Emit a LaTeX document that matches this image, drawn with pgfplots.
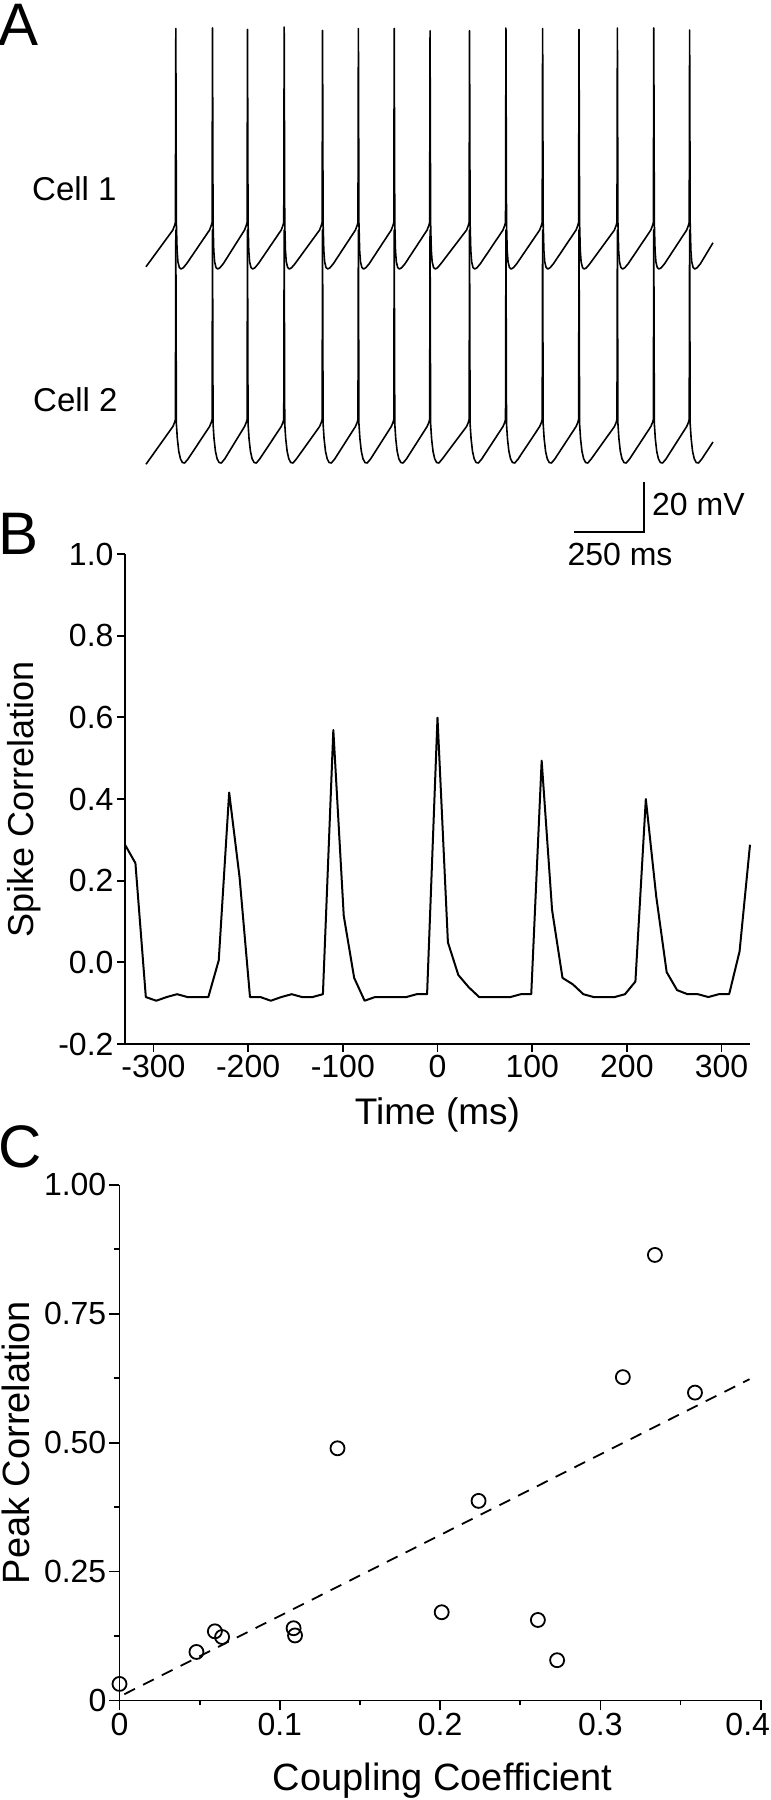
\documentclass[border=0pt]{standalone}
\usepackage{fontspec}
\setmainfont{Liberation Sans}
\usepackage{pgfplots}
\pgfplotsset{compat=1.18}
\begin{document}
\begin{tikzpicture}
\path[use as bounding box] (0pt,0pt) rectangle (771pt,-1800pt);

% ---------------- Panel A : Cell 1 ----------------
\begin{axis}[at={(146pt,-270.5pt)}, anchor=south west, scale only axis,
  width=567pt, height=245pt, xmin=0, xmax=2025, ymin=-64, ymax=34,
  hide axis, clip=false]
\addplot[black, line width=1.6pt, line join=round] table {
t v
0 -62.5
96 -47.8
102 -46.0
105 -44.8
106.5 32.8
108.5 -45.0
111 -56.0
114 -60.5
119 -62.8
125 -63.4
133 -62.9
145 -61.3
227 -47.8
233 -46.0
236 -44.8
237.5 33.0
239.5 -45.0
242 -56.0
245 -60.5
250 -62.8
256 -63.4
264 -62.9
276 -61.3
352 -47.8
358 -46.0
361 -44.8
362.5 32.4
364.5 -45.0
367 -56.0
370 -60.5
375 -62.8
381 -63.4
389 -62.9
401 -61.3
483 -47.8
489 -46.0
492 -44.8
493.5 33.4
495.5 -45.0
498 -56.0
501 -60.5
506 -62.8
512 -63.4
520 -62.9
532 -61.3
620 -47.8
626 -46.0
629 -44.8
630.5 32.0
632.5 -45.0
635 -56.0
638 -60.5
643 -62.8
649 -63.4
657 -62.9
669 -61.3
748 -47.8
754 -46.0
757 -44.8
758.5 32.8
760.5 -45.0
763 -56.0
766 -60.5
771 -62.8
777 -63.4
785 -62.9
797 -61.3
876 -47.8
882 -46.0
885 -44.8
886.5 32.8
888.5 -45.0
891 -56.0
894 -60.5
899 -62.8
905 -63.4
913 -62.9
925 -61.3
1004 -47.8
1010 -46.0
1013 -44.8
1014.5 31.9
1016.5 -45.0
1019 -56.0
1022 -60.5
1027 -62.8
1033 -63.4
1041 -62.9
1053 -61.3
1145 -47.8
1151 -46.0
1154 -44.8
1155.5 31.9
1157.5 -45.0
1160 -56.0
1163 -60.5
1168 -62.8
1174 -63.4
1182 -62.9
1194 -61.3
1275 -47.8
1281 -46.0
1284 -44.8
1285.5 33.0
1287.5 -45.0
1290 -56.0
1293 -60.5
1298 -62.8
1304 -63.4
1312 -62.9
1324 -61.3
1406 -47.8
1412 -46.0
1415 -44.8
1416.5 32.8
1418.5 -45.0
1421 -56.0
1424 -60.5
1429 -62.8
1435 -63.4
1443 -62.9
1455 -61.3
1536 -47.8
1542 -46.0
1545 -44.8
1546.5 32.4
1548.5 -45.0
1551 -56.0
1554 -60.5
1559 -62.8
1565 -63.4
1573 -62.9
1585 -61.3
1673 -47.8
1679 -46.0
1682 -44.8
1683.5 33.0
1685.5 -45.0
1688 -56.0
1691 -60.5
1696 -62.8
1702 -63.4
1710 -62.9
1722 -61.3
1803 -47.8
1809 -46.0
1812 -44.8
1813.5 33.0
1815.5 -45.0
1818 -56.0
1821 -60.5
1826 -62.8
1832 -63.4
1840 -62.9
1852 -61.3
1931 -47.8
1937 -46.0
1940 -44.8
1941.5 32.2
1943.5 -45.0
1946 -56.0
1949 -60.5
1954 -62.8
1960 -63.4
1968 -62.9
1980 -61.3
2025 -52.9
};
\end{axis}

% ---------------- Panel A : Cell 2 + scale bar ----------------
\begin{axis}[at={(146pt,-545pt)}, anchor=south west, scale only axis,
  width=567pt, height=322.5pt, xmin=0, xmax=2025, ymin=-95, ymax=34,
  hide axis, clip=false]
\addplot[black, line width=1.6pt, line join=round] table {
t v
0 -62.7
96 -47.6
102 -46.0
105 -44.8
106.5 31.0
108.5 -46.5
112 -52.5
117 -57.5
123 -60.5
130 -62.0
138 -62.2
150 -60.6
227 -47.6
233 -46.0
236 -44.8
237.5 31.0
239.5 -46.5
243 -52.5
248 -57.5
254 -60.5
261 -62.0
269 -62.2
281 -60.6
352 -47.6
358 -46.0
361 -44.8
362.5 31.0
364.5 -46.5
368 -52.5
373 -57.5
379 -60.5
386 -62.0
394 -62.2
406 -60.6
483 -47.6
489 -46.0
492 -44.8
493.5 31.0
495.5 -46.5
499 -52.5
504 -57.5
510 -60.5
517 -62.0
525 -62.2
537 -60.6
620 -47.6
626 -46.0
629 -44.8
630.5 31.0
632.5 -46.5
636 -52.5
641 -57.5
647 -60.5
654 -62.0
662 -62.2
674 -60.6
748 -47.6
754 -46.0
757 -44.8
758.5 31.0
760.5 -46.5
764 -52.5
769 -57.5
775 -60.5
782 -62.0
790 -62.2
802 -60.6
876 -47.6
882 -46.0
885 -44.8
886.5 31.0
888.5 -46.5
892 -52.5
897 -57.5
903 -60.5
910 -62.0
918 -62.2
930 -60.6
1004 -47.6
1010 -46.0
1013 -44.8
1014.5 31.0
1016.5 -46.5
1020 -52.5
1025 -57.5
1031 -60.5
1038 -62.0
1046 -62.2
1058 -60.6
1145 -47.6
1151 -46.0
1154 -44.8
1155.5 31.0
1157.5 -46.5
1161 -52.5
1166 -57.5
1172 -60.5
1179 -62.0
1187 -62.2
1199 -60.6
1275 -47.6
1281 -46.0
1284 -44.8
1285.5 31.0
1287.5 -46.5
1291 -52.5
1296 -57.5
1302 -60.5
1309 -62.0
1317 -62.2
1329 -60.6
1406 -47.6
1412 -46.0
1415 -44.8
1416.5 31.0
1418.5 -46.5
1422 -52.5
1427 -57.5
1433 -60.5
1440 -62.0
1448 -62.2
1460 -60.6
1536 -47.6
1542 -46.0
1545 -44.8
1546.5 31.0
1548.5 -46.5
1552 -52.5
1557 -57.5
1563 -60.5
1570 -62.0
1578 -62.2
1590 -60.6
1673 -47.6
1679 -46.0
1682 -44.8
1683.5 31.0
1685.5 -46.5
1689 -52.5
1694 -57.5
1700 -60.5
1707 -62.0
1715 -62.2
1727 -60.6
1803 -47.6
1809 -46.0
1812 -44.8
1813.5 31.0
1815.5 -46.5
1819 -52.5
1824 -57.5
1830 -60.5
1837 -62.0
1845 -62.2
1857 -60.6
1931 -47.6
1937 -46.0
1940 -44.8
1941.5 31.0
1943.5 -46.5
1947 -52.5
1952 -57.5
1958 -60.5
1965 -62.0
1973 -62.2
1985 -60.6
2025 -53.8
};
% scale bar: 250 ms x 20 mV
\addplot[black, line width=2pt] coordinates {(1528.6,-89.8) (1778.6,-89.8) (1778.6,-69.8)};
\end{axis}

% ---------------- Panel B ----------------
\begin{axis}[at={(125pt,-1044pt)}, anchor=south west, scale only axis,
  width=625pt, height=490pt,
  xmin=-330, xmax=330, ymin=-0.2, ymax=1.0, enlargelimits=false,
  axis lines=left, x axis line style={-}, y axis line style={-},
  axis line style={line width=1.8pt, black},
  tick align=outside, major tick length=8pt,
  tick style={line width=1.8pt, black},
  xtick={-300,-200,-100,0,100,200,300},
  xticklabels={-300,-200,-100,0,100,200,300},
  ytick={-0.2,0,0.2,0.4,0.6,0.8,1.0},
  yticklabels={-0.2,0.0,0.2,0.4,0.6,0.8,1.0},
  ticklabel style={font=\fontsize{32}{36}\selectfont},
  xlabel={Time (ms)}, ylabel={Spike Correlation},
  every axis x label/.style={at={(axis description cs:0.5,-0.1633)}, anchor=base, font=\fontsize{37}{40}\selectfont},
  every axis y label/.style={at={(axis description cs:-0.1456,0.5)}, anchor=base, rotate=90, font=\fontsize{36}{40}\selectfont},
  clip=false]
\addplot[black, line width=2pt, line join=round] coordinates {
(-330,0.288) (-319,0.243) (-308,-0.085) (-297,-0.094) (-286,-0.085) (-275,-0.078)
(-264,-0.085) (-253,-0.085) (-242,-0.085) (-231,0.005) (-220,0.416) (-209,0.208)
(-198,-0.085) (-187,-0.085) (-176,-0.094) (-165,-0.085) (-154,-0.078) (-143,-0.085)
(-132,-0.085) (-121,-0.078) (-110,0.569) (-99,0.114) (-88,-0.038) (-77,-0.094)
(-66,-0.085) (-55,-0.085) (-44,-0.085) (-33,-0.085) (-22,-0.078) (-11,-0.078)
(0,0.599) (11,0.049) (22,-0.031) (33,-0.061) (44,-0.085) (55,-0.085)
(66,-0.085) (77,-0.085) (88,-0.078) (99,-0.078) (110,0.494) (121,0.128)
(132,-0.038) (143,-0.054) (154,-0.078) (165,-0.085) (176,-0.085) (187,-0.085)
(198,-0.078) (209,-0.047) (220,0.400) (231,0.161) (242,-0.024) (253,-0.068)
(264,-0.078) (275,-0.078) (286,-0.085) (297,-0.078) (308,-0.078) (319,0.027)
(330,0.288)
};
\end{axis}

% ---------------- Panel C ----------------
\begin{axis}[at={(119.5pt,-1700.4pt)}, anchor=south west, scale only axis,
  width=641.2pt, height=515.6pt,
  xmin=0, xmax=0.4, ymin=0, ymax=1, enlargelimits=false,
  axis lines=left, x axis line style={-}, y axis line style={-},
  axis line style={line width=1.8pt, black},
  tick align=outside, major tick length=10pt, minor tick length=5pt,
  tick style={line width=1.8pt, black},
  xtick={0,0.1,0.2,0.3,0.4}, xticklabels={0,0.1,0.2,0.3,{0.4\hspace*{26pt}}},
  minor xtick={0.05,0.15,0.25,0.35},
  ytick={0,0.25,0.5,0.75,1}, yticklabels={0,0.25,0.50,0.75,1.00},
  minor ytick={0.125,0.375,0.625,0.875},
  ticklabel style={font=\fontsize{32}{36}\selectfont, inner sep=3pt},
  xlabel={Coupling Coefficient}, ylabel={Peak Correlation},
  every axis x label/.style={at={(axis description cs:0.504,-0.1738)}, anchor=base, font=\fontsize{38}{42}\selectfont},
  every axis y label/.style={at={(axis description cs:-0.1404,0.5)}, anchor=base, rotate=90, font=\fontsize{38}{42}\selectfont},
  clip=false]
\addplot[black, line width=1.8pt, dash pattern=on 12pt off 9pt] coordinates {(0.003,0.012) (0.393,0.623)};
\addplot[only marks, mark=o, mark size=7pt, mark options={line width=1.8pt, black}] coordinates {
(0.000,0.032) (0.048,0.094) (0.0595,0.134) (0.064,0.123) (0.1086,0.140)
(0.1095,0.126) (0.136,0.489) (0.201,0.171) (0.224,0.387) (0.261,0.156)
(0.273,0.078) (0.314,0.627) (0.334,0.864) (0.359,0.597)
};
\end{axis}

% ---------------- Text ----------------
\node[anchor=base west, inner sep=0pt, font=\fontsize{60}{60}\selectfont] at (-2pt,-45pt) {A};
\node[anchor=base west, inner sep=0pt, font=\fontsize{60}{60}\selectfont] at (-2pt,-554pt) {B};
\node[anchor=base west, inner sep=0pt, font=\fontsize{60}{60}\selectfont] at (-2pt,-1167pt) {C};
\node[anchor=base west, inner sep=0pt, font=\fontsize{33}{36}\selectfont] at (32pt,-200pt) {Cell 1};
\node[anchor=base west, inner sep=0pt, font=\fontsize{33}{36}\selectfont] at (33pt,-411pt) {Cell 2};
\node[anchor=base west, inner sep=0pt, font=\fontsize{32}{36}\selectfont] at (652pt,-515pt) {20 mV};
\node[anchor=base, inner sep=0pt, font=\fontsize{32}{36}\selectfont] at (620pt,-565pt) {250 ms};
\end{tikzpicture}
\end{document}
